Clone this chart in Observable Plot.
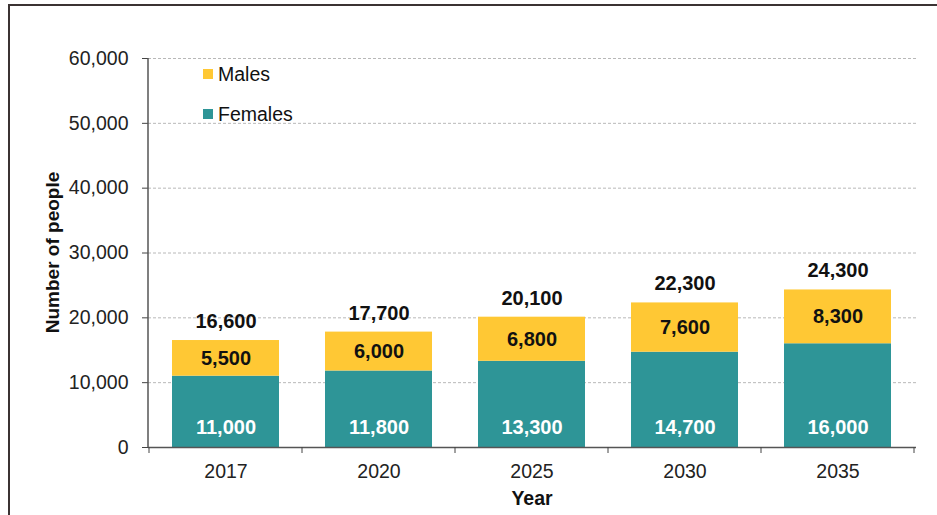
<!DOCTYPE html>
<html>
<head>
<meta charset="utf-8">
<script src="https://cdn.jsdelivr.net/npm/d3@7"></script>
<script src="https://cdn.jsdelivr.net/npm/@observablehq/plot@0.6"></script>
<style>
  html, body { margin: 0; padding: 0; background: #fff; overflow: hidden; width: 937px; height: 515px; }
  #wrap { position: relative; width: 937px; height: 515px; font-family: "Liberation Sans", Arial, sans-serif; }
  #frame { position: absolute; left: 8px; top: 4px; width: 1200px; height: 1200px; border: 2px solid #3b3333; box-sizing: border-box; }
  #chart { position: absolute; left: 0; top: 0; }
  #legend { position: absolute; left: 203px; top: 62px; font-size: 19.5px; color: #111; }
  .li { display: flex; align-items: center; height: 24px; margin-bottom: 16px; }
  .sw { width: 10px; height: 10px; margin-right: 5px; }
</style>
</head>
<body>
<div id="wrap">
  <div id="frame"></div>
  <div id="chart"></div>
  <div id="legend"></div>
</div>
<script>
const years = ["2017", "2020", "2025", "2030", "2035"];
const females = [11000, 11800, 13300, 14700, 16000];
const males = [5500, 6000, 6800, 7600, 8300];
const totals = [16600, 17700, 20100, 22300, 24300];
const series = ["Females", "Males"];
const legendOrder = ["Males", "Females"];
const colors = ["#2E9597", "#FFC834"];
const yTicks = [0, 10000, 20000, 30000, 40000, 50000, 60000];
const yLabel = "Number of people";
const xLabel = "Year";

const fmt = d3.format(",");
const rows = years.flatMap((y, i) => [
  {year: y, sex: "Females", value: females[i]},
  {year: y, sex: "Males", value: males[i]}
]);
const fRows = years.map((y, i) => ({year: y, v: females[i]}));
const mRows = years.map((y, i) => ({year: y, mid: females[i] + males[i] / 2, v: males[i]}));
const tRows = years.map((y, i) => ({year: y, top: females[i] + males[i], v: totals[i]}));

const font = "Liberation Sans, Arial, sans-serif";

const plot = Plot.plot({
  width: 937,
  height: 515,
  marginLeft: 148,
  marginRight: 21,
  marginTop: 58,
  marginBottom: 68,
  style: {fontFamily: font, fontSize: "19.5px", color: "#222", background: "transparent"},
  x: {domain: years, paddingInner: 0.3, paddingOuter: 0.15, label: null},
  y: {domain: [0, 60000], ticks: yTicks, label: null},
  color: {domain: series, range: colors},
  marks: [
    Plot.gridY(yTicks, {stroke: "#b8b8b8", strokeOpacity: 1, strokeDasharray: "3,2"}),
    Plot.barY(rows, {x: "year", y: "value", fill: "sex", order: series}),
    Plot.ruleY([0], {stroke: "#555", strokeWidth: 1.5}),
    Plot.axisY(yTicks, {tickSize: 6, tickPadding: 14, tickFormat: fmt, fontSize: 19.5, stroke: "#444", label: null}),
    Plot.axisX({tickSize: 0, tickPadding: 17, fontSize: 19.5, label: null}),
    Plot.text(fRows, {x: "year", y: 0, text: d => fmt(d.v), dy: -20, fill: "white", fontWeight: "bold", fontSize: 20}),
    Plot.text(mRows, {x: "year", y: "mid", text: d => fmt(d.v), fill: "#111", fontWeight: "bold", fontSize: 20}),
    Plot.text(tRows, {x: "year", y: "top", text: d => fmt(d.v), dy: -19, fill: "#111", fontWeight: "bold", fontSize: 20})
  ]
});

document.getElementById("chart").appendChild(plot);

// Extra axis furniture derived from the scales
const xs = plot.scale("x");
const ys = plot.scale("y");
const svg = d3.select(plot);
const x0 = xs.range[0], x1 = xs.range[1];
const y0 = ys.apply(0), yTop = ys.apply(ys.domain[1]);
// y axis line
svg.append("line").attr("x1", x0).attr("x2", x0).attr("y1", y0).attr("y2", yTop)
  .attr("stroke", "#555").attr("stroke-width", 1.5);
// category boundary ticks
const bounds = years.map(y => xs.apply(y) - (xs.step - xs.bandwidth) / 2);
bounds.push(xs.apply(years[years.length - 1]) + xs.bandwidth + (xs.step - xs.bandwidth) / 2);
bounds.forEach(b => {
  svg.append("line").attr("x1", b).attr("x2", b).attr("y1", y0).attr("y2", y0 + 6)
    .attr("stroke", "#444").attr("stroke-width", 1);
});
// axis titles
svg.append("text").text(xLabel)
  .attr("x", (x0 + x1) / 2).attr("y", 505)
  .attr("text-anchor", "middle").attr("font-weight", "bold").attr("font-size", 19.5)
  .attr("font-family", font).attr("fill", "#111");
svg.append("text").text(yLabel)
  .attr("transform", `translate(59,${(y0 + yTop) / 2}) rotate(-90)`)
  .attr("text-anchor", "middle").attr("font-weight", "bold").attr("font-size", 19)
  .attr("font-family", font).attr("fill", "#111");

// legend
const lg = document.getElementById("legend");
legendOrder.forEach(name => {
  const row = document.createElement("div");
  row.className = "li";
  const sw = document.createElement("span");
  sw.className = "sw";
  sw.style.background = colors[series.indexOf(name)];
  const t = document.createElement("span");
  t.textContent = name;
  row.appendChild(sw);
  row.appendChild(t);
  lg.appendChild(row);
});
</script>
</body>
</html>
